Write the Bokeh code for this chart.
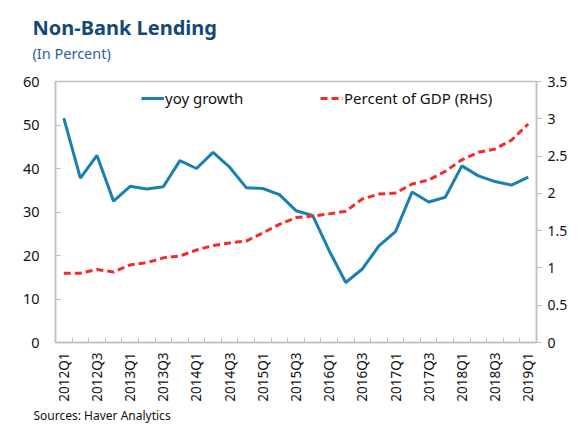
from bokeh.plotting import figure
from bokeh.models import (Range1d, LinearAxis, FixedTicker, CustomJSTickFormatter,
                          Title, Legend, LegendItem)
from bokeh.embed import file_html
from bokeh.resources import INLINE

# ---- data ----
quarters = [f"{y}Q{q}" for y in range(2012, 2020) for q in range(1, 5)][:29]
yoy_growth = [51.6, 37.8, 43.0, 32.5, 35.9, 35.3, 35.8, 41.8, 40.0, 43.7,
              40.3, 35.6, 35.4, 34.0, 30.3, 29.2, 21.1, 13.8, 16.9, 22.2,
              25.5, 34.6, 32.3, 33.4, 40.6, 38.3, 37.0, 36.2, 38.0]
pct_gdp = [0.93, 0.93, 0.98, 0.945, 1.04, 1.07, 1.135, 1.16, 1.24, 1.30,
           1.335, 1.36, 1.47, 1.585, 1.675, 1.695, 1.725, 1.76, 1.925, 1.99,
           2.005, 2.125, 2.18, 2.295, 2.45, 2.55, 2.595, 2.715, 2.93]
left_ticks = [0, 10, 20, 30, 40, 50, 60]
right_ticks = [0, 0.5, 1, 1.5, 2, 2.5, 3, 3.5]

FONT = "Noto Sans"
BLUE = "#1a80af"
RED = "#f52a2a"
GREY = "#bfbfbf"
TITLE_BLUE = "#12487a"

idx = list(range(len(quarters)))

p = figure(width=570, height=423, output_backend="svg", toolbar_location=None,
           x_range=Range1d(-0.5, len(quarters) - 0.5), y_range=Range1d(0, 60),
           min_border_left=55, min_border_right=30, min_border_top=81,
           min_border_bottom=79)
p.extra_y_ranges = {"gdp": Range1d(0, 3.5)}
p.xgrid.visible = False
p.ygrid.visible = False
p.outline_line_color = GREY
p.outline_line_width = 1.5
p.background_fill_color = "white"
p.border_fill_color = "white"

# x axis
xa = p.xaxis[0]
xa.ticker = FixedTicker(ticks=idx[::2],
                        minor_ticks=[i + 0.5 for i in idx[:-1]])
xa.formatter = CustomJSTickFormatter(args=dict(labels=quarters),
                                     code="const i = Math.round(tick); return labels[i] ?? '';")
xa.major_label_orientation = 1.5707963
xa.major_tick_in = 0
xa.major_tick_out = 0
xa.minor_tick_in = 5
xa.minor_tick_out = 0
xa.minor_tick_line_color = GREY
xa.axis_line_color = GREY
xa.axis_line_width = 1.5
xa.major_label_standoff = 10
xa.major_label_text_font = FONT
xa.major_label_text_font_size = "13.5px"
xa.major_label_text_color = "#111111"

# left axis
ya = p.yaxis[0]
ya.ticker = FixedTicker(ticks=left_ticks)
ya.major_tick_in = 5
ya.major_tick_out = 0
ya.minor_tick_line_color = None
ya.major_tick_line_color = GREY
ya.axis_line_color = GREY
ya.axis_line_width = 1.5
ya.major_label_standoff = 16
ya.major_label_text_font = FONT
ya.major_label_text_font_size = "14.5px"
ya.major_label_text_color = "#111111"

# right axis
ra = LinearAxis(y_range_name="gdp", ticker=FixedTicker(ticks=right_ticks),
                formatter=CustomJSTickFormatter(code="return String(tick);"))
ra.major_tick_in = 0
ra.major_tick_out = 5
ra.minor_tick_line_color = None
ra.major_tick_line_color = GREY
ra.axis_line_color = GREY
ra.axis_line_width = 1.5
ra.major_label_standoff = 6
ra.major_label_text_font = FONT
ra.major_label_text_font_size = "14px"
ra.major_label_text_color = "#111111"
p.add_layout(ra, "right")

# lines
r_yoy = p.line(idx, yoy_growth, line_color=BLUE, line_width=3)
r_gdp = p.line(idx, pct_gdp, y_range_name="gdp", line_color=RED, line_width=3,
               line_dash="7 4")

for items, loc in (([LegendItem(label="yoy growth", renderers=[r_yoy])], (86, 234)),
                   ([LegendItem(label="Percent of GDP (RHS)", renderers=[r_gdp])], (265, 234))):
    lg = Legend(items=items, location=loc, orientation="horizontal",
                glyph_width=23, glyph_height=20, label_standoff=1, padding=0,
                margin=0, border_line_alpha=0, background_fill_alpha=0,
                label_text_font=FONT, label_text_font_size="15px",
                label_text_color="#111111")
    p.add_layout(lg, "center")

# titles (first added -> nearest the plot); a blank spacer keeps the gap
p.add_layout(Title(text=" ", standoff=0, text_font=FONT,
                   text_font_size="12px"), "above")
p.add_layout(Title(text="(In Percent)", align="left", offset=-23, standoff=0,
                   text_font=FONT, text_font_size="14.5px",
                   text_font_style="normal", text_color="#2a6394"), "above")
p.add_layout(Title(text="Non-Bank Lending", align="left", offset=-23, standoff=0,
                   text_font=FONT, text_font_size="20px",
                   text_font_style="bold", text_color=TITLE_BLUE), "above")
p.add_layout(Title(text="Sources: Haver Analytics", align="left", offset=-22,
                   standoff=0, text_font=FONT, text_font_size="12px",
                   text_font_style="normal", text_color="#111111"), "below")

open("out.html", "w").write(file_html(p, INLINE))
